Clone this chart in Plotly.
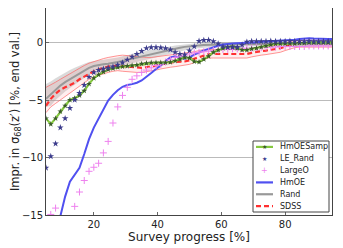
import plotly.graph_objects as go

progress = [5.0, 6.5, 8.0, 9.5, 11.0, 12.5, 14.0, 15.5, 17.0, 18.5, 20.0, 21.5, 23.0, 24.5, 26.0,
            27.5, 29.0, 30.5, 32.0, 33.5, 35.0, 36.5, 38.0, 39.5, 41.0, 42.5, 44.0, 45.5, 47.0, 48.5,
            50.0, 51.5, 53.0, 54.5, 56.0, 57.5, 59.0, 60.5, 62.0, 63.5, 65.0, 66.5, 68.0, 69.5, 71.0,
            72.5, 74.0, 75.5, 77.0, 78.5, 80.0, 81.5, 83.0, 84.5, 86.0, 87.5, 89.0, 90.5, 92.0, 93.5, 95.0]

hmoesamp = [-6.6, -7.1, -6.6, -6.0, -5.5, -5.0, -4.85, -4.6, -4.2, -3.6, -3.1, -2.8, -2.55, -2.35, -2.25,
            -2.15, -2.1, -2.05, -2.0, -1.95, -1.85, -1.8, -1.75, -1.75, -1.75, -1.75, -1.72, -1.6, -1.45, -1.3,
            -1.35, -1.65, -1.7, -1.45, -1.2, -0.85, -0.65, -0.5, -0.4, -0.35, -0.5, -0.65, -0.65, -0.55, -0.5,
            -0.4, -0.3, -0.2, -0.12, -0.1, -0.1, -0.08, -0.1, -0.05, -0.05, 0.0, 0.0, 0.0, 0.0, 0.0, 0.0]

le_rand = [-10.9, -9.9, -8.8, -7.4, -6.6, -5.7, -5.0, -4.4, -3.7, -3.0, -2.6, -2.4, -2.3, -2.2, -2.1,
           -1.95, -1.75, -1.5, -1.25, -1.0, -0.75, -0.5, -0.43, -0.42, -0.45, -0.5, -0.62, -0.85, -1.0, -1.05,
           -0.7, -0.35, 0.12, 0.2, 0.22, 0.1, -0.1, -0.35, -0.43, -0.43, -0.4, -0.2, 0.05, 0.1, 0.1,
           0.1, 0.1, 0.12, 0.1, 0.1, 0.1, 0.12, 0.1, 0.1, 0.1, 0.12, 0.1, 0.1, 0.1, 0.1, 0.1]

large_o = [-16.0, -14.95, -14.4, -15.5, -15.8, -15.3, -14.25, -13.0, -12.0, -11.2, -10.85, -10.5, -9.6, -8.6, -7.0,
           -5.6, -4.6, -3.9, -3.2, -2.9, -2.6, -2.4, -2.2, -2.0, -1.9, -1.7, -1.5, -1.3, -1.2, -1.1,
           -1.0, -0.9, -0.85, -0.8, -0.75, -0.7, -0.65, -0.6, -0.6, -0.55, -0.55, -0.5, -0.5, -0.5, -0.45,
           -0.45, -0.4, -0.4, -0.4, -0.35, -0.35, -0.35, -0.35, -0.35, -0.35, -0.3, -0.3, -0.3, -0.3, -0.3, -0.3]

hmoe = [-20.0, -18.5, -17.0, -15.1, -13.4, -12.1, -11.5, -10.9, -9.7, -8.4, -7.4, -6.6, -5.8, -5.05, -4.55,
        -4.15, -3.85, -3.7, -3.62, -3.5, -3.3, -3.0, -2.65, -2.3, -2.0, -1.6, -1.3, -1.2, -1.35, -1.42,
        -1.3, -1.05, -0.85, -0.7, -0.55, -0.4, -0.28, -0.18, -0.1, -0.08, -0.06, -0.05, -0.03, 0.0, 0.03,
        0.06, 0.08, 0.1, 0.12, 0.14, 0.16, 0.2, 0.25, 0.3, 0.35, 0.38, 0.35, 0.32, 0.3, 0.3, 0.3]

rand = [-4.9, -4.5, -4.1, -3.75, -3.45, -3.2, -2.95, -2.7, -2.45, -2.2, -2.05, -1.95, -1.9, -1.85, -1.8,
        -1.7, -1.6, -1.5, -1.4, -1.3, -1.2, -1.1, -1.0, -0.9, -0.82, -0.75, -0.65, -0.55, -0.45, -0.38,
        -0.32, -0.28, -0.25, -0.22, -0.2, -0.18, -0.15, -0.15, -0.15, -0.15, -0.15, -0.15, -0.12, -0.1, -0.1,
        -0.1, -0.1, -0.1, -0.1, -0.1, -0.1, -0.1, -0.1, -0.1, -0.1, -0.1, -0.1, -0.1, -0.1, -0.1, -0.1]
rand_hi = [-3.6, -3.4, -3.1, -2.85, -2.6, -2.4, -2.2, -2.0, -1.85, -1.7, -1.6, -1.55, -1.5, -1.45, -1.4,
           -1.3, -1.2, -1.1, -1.0, -0.95, -0.85, -0.75, -0.65, -0.55, -0.5, -0.45, -0.35, -0.25, -0.2, -0.15,
           -0.1, -0.08, -0.05, -0.02, 0.0, 0.0, 0.0, 0.0, 0.0, 0.0, 0.0, 0.0, 0.05, 0.05, 0.05,
           0.05, 0.05, 0.05, 0.05, 0.05, 0.05, 0.05, 0.05, 0.05, 0.05, 0.05, 0.05, 0.05, 0.05, 0.05, 0.05]
rand_lo = [-5.6, -5.5, -5.0, -4.6, -4.25, -3.95, -3.65, -3.35, -3.05, -2.75, -2.5, -2.35, -2.3, -2.25, -2.2,
           -2.1, -2.0, -1.9, -1.8, -1.7, -1.6, -1.5, -1.4, -1.3, -1.2, -1.1, -0.98, -0.88, -0.75, -0.65,
           -0.58, -0.52, -0.48, -0.45, -0.42, -0.4, -0.38, -0.35, -0.35, -0.35, -0.35, -0.35, -0.35, -0.3, -0.3,
           -0.3, -0.3, -0.3, -0.3, -0.3, -0.3, -0.3, -0.3, -0.3, -0.3, -0.3, -0.3, -0.3, -0.3, -0.3, -0.3]

sdss = [-5.5, -4.9, -4.45, -4.1, -3.9, -3.7, -3.5, -3.2, -2.95, -2.7, -2.5, -2.35, -2.2, -2.1, -2.05,
        -2.0, -2.05, -2.1, -2.15, -2.2, -2.2, -2.15, -2.1, -2.0, -1.9, -1.8, -1.75, -1.7, -1.68, -1.65,
        -1.55, -1.4, -1.25, -1.1, -1.0, -1.0, -1.0, -1.0, -1.0, -1.0, -1.0, -1.0, -1.0, -0.9, -0.8,
        -0.75, -0.7, -0.65, -0.6, -0.5, -0.35, -0.2, -0.1, -0.05, -0.05, -0.05, -0.05, -0.05, -0.08, -0.1, -0.1]
sdss_hi = [-3.9, -3.7, -3.45, -3.2, -2.95, -2.7, -2.45, -2.2, -2.0, -1.8, -1.65, -1.5, -1.4, -1.3, -1.2,
           -1.15, -1.1, -1.15, -1.2, -1.25, -1.3, -1.3, -1.3, -1.25, -1.2, -1.15, -1.1, -1.05, -1.0, -0.95,
           -0.9, -0.8, -0.7, -0.6, -0.6, -0.6, -0.6, -0.6, -0.6, -0.6, -0.6, -0.6, -0.6, -0.5, -0.45,
           -0.4, -0.35, -0.3, -0.25, -0.15, -0.05, 0.1, 0.15, 0.2, 0.2, 0.2, 0.2, 0.2, 0.2, 0.2, 0.2]
sdss_lo = [-6.1, -5.6, -5.3, -5.0, -4.7, -4.4, -4.1, -3.8, -3.5, -3.2, -3.0, -2.85, -2.7, -2.6, -2.5,
           -2.45, -2.5, -2.55, -2.6, -2.6, -2.6, -2.55, -2.5, -2.4, -2.3, -2.2, -2.15, -2.1, -2.05, -2.0,
           -1.9, -1.75, -1.6, -1.45, -1.35, -1.35, -1.35, -1.35, -1.35, -1.35, -1.35, -1.35, -1.35, -1.25, -1.15,
           -1.1, -1.05, -1.0, -0.95, -0.85, -0.7, -0.55, -0.45, -0.4, -0.4, -0.4, -0.4, -0.4, -0.4, -0.4, -0.4]

x_ticks = [20, 40, 60, 80]
y_ticks = [-15, -10, -5, 0]

C_GREEN, C_GREEN_MK = "#86c940", "#3a5a2a"
C_LE = "#3c3c8c"
C_LARGE = "#ee82ee"
C_HMOE = "#5050f0"
C_RAND = "#999999"
C_SDSS = "#ff3030"

fig = go.Figure()

# Rand band
fig.add_trace(go.Scatter(x=progress, y=rand_hi, mode="lines", line=dict(width=0, color="rgba(0,0,0,0)"),
                         showlegend=False, hoverinfo="skip"))
fig.add_trace(go.Scatter(x=progress, y=rand_lo, mode="lines", line=dict(width=0, color="rgba(0,0,0,0)"),
                         fill="tonexty", fillcolor="rgba(150,150,150,0.35)", showlegend=False, hoverinfo="skip"))
# SDSS band
fig.add_trace(go.Scatter(x=progress, y=sdss_hi, mode="lines", line=dict(width=0.8, color="rgba(255,90,90,0.8)"),
                         showlegend=False, hoverinfo="skip"))
fig.add_trace(go.Scatter(x=progress, y=sdss_lo, mode="lines", line=dict(width=0.8, color="rgba(255,90,90,0.8)"),
                         fill="tonexty", fillcolor="rgba(255,120,120,0.12)", showlegend=False, hoverinfo="skip"))

fig.add_trace(go.Scatter(x=progress, y=sdss, mode="lines", name="SDSS", showlegend=False,
                         line=dict(color=C_SDSS, width=2.2, dash="5px,3px")))
fig.add_trace(go.Scatter(x=progress, y=rand, mode="lines", name="Rand", showlegend=False,
                         line=dict(color=C_RAND, width=2)))
fig.add_trace(go.Scatter(x=progress, y=hmoe, mode="lines", name="HmOE", showlegend=False,
                         line=dict(color=C_HMOE, width=2)))
fig.add_trace(go.Scatter(x=progress, y=large_o, mode="markers", name="LargeO", showlegend=False,
                         marker=dict(symbol="cross-thin", size=5, color=C_LARGE,
                                     line=dict(color=C_LARGE, width=1))))
fig.add_trace(go.Scatter(x=progress, y=hmoesamp, mode="lines+markers", name="HmOESamp", showlegend=False,
                         line=dict(color=C_GREEN, width=2.2),
                         marker=dict(symbol="star", size=4.5, color=C_GREEN_MK)))
fig.add_trace(go.Scatter(x=progress, y=le_rand, mode="markers", name="LE_Rand", showlegend=False,
                         marker=dict(symbol="star", size=5, color=C_LE)))

# ---- geometry (the page body adds an 8 px margin, so the figure is sized to fit inside it) ----
PAGE_OFF = 8
W, H = 343 - PAGE_OFF, 248 - PAGE_OFF
ML, MR, MT, MB = 38, 11, 0, 33
PW, PH = W - ML - MR, H - MT - MB
def px_x(p): return (p - PAGE_OFF - ML) / PW      # window pixel -> paper
def px_y(p): return (H - MB - (p - PAGE_OFF)) / PH

# ---- compact legend (plotly's built-in legend rows cannot be made this tight) ----
legend_names = ["HmOESamp", "LE_Rand", "LargeO", "HmOE", "Rand", "SDSS"]
box_l, box_r, box_t, box_b = 253, 329, 141, 212
row_h = (box_b - box_t) / len(legend_names)
line_x0, line_x1, text_x = 256, 273, 278

shapes = [dict(type="rect", xref="paper", yref="paper", x0=px_x(box_l), x1=px_x(box_r),
               y0=px_y(box_b), y1=px_y(box_t), line=dict(color="#444", width=1), fillcolor="white",
               layer="above")]
annotations = []
for i, name in enumerate(legend_names):
    cy = px_y(box_t + row_h * (i + 0.5))
    annotations.append(dict(text=name, x=px_x(text_x), y=cy, xref="paper", yref="paper",
                            xanchor="left", yanchor="middle", showarrow=False,
                            font=dict(size=8, color="#222")))
    if name in ("HmOESamp", "HmOE", "Rand"):
        col = {"HmOESamp": C_GREEN, "HmOE": C_HMOE, "Rand": C_RAND}[name]
        shapes.append(dict(type="line", xref="paper", yref="paper", x0=px_x(line_x0), x1=px_x(line_x1),
                           y0=cy, y1=cy, line=dict(color=col, width=2.2), layer="above"))
    if name == "SDSS":
        shapes.append(dict(type="line", xref="paper", yref="paper", x0=px_x(line_x0), x1=px_x(line_x1),
                           y0=cy, y1=cy, line=dict(color=C_SDSS, width=2.2, dash="5px,3px"), layer="above"))
    mid = px_x((line_x0 + line_x1) / 2)
    if name in ("HmOESamp", "LE_Rand"):
        annotations.append(dict(text="★", x=mid, y=cy, xref="paper", yref="paper",
                                xanchor="center", yanchor="middle", showarrow=False,
                                font=dict(size=6, color=C_GREEN_MK if name == "HmOESamp" else C_LE)))
    if name == "LargeO":
        annotations.append(dict(text="+", x=mid, y=cy, xref="paper", yref="paper",
                                xanchor="center", yanchor="middle", showarrow=False,
                                font=dict(size=8, color=C_LARGE)))

fig.update_layout(
    width=W, height=H,
    margin=dict(l=ML, r=MR, t=MT, b=MB),
    paper_bgcolor="white", plot_bgcolor="white",
    font=dict(family="DejaVu Sans", color="#222", size=10),
    showlegend=False,
    shapes=shapes, annotations=annotations,
    xaxis=dict(range=[5, 94.7], tickvals=x_ticks, ticks="inside", ticklen=3, tickcolor="#666",
               showgrid=False, zeroline=False, showline=True, linecolor="#444", linewidth=1, mirror=True,
               automargin=False,
               title=dict(text="Survey progress [%]", font=dict(size=12), standoff=2),
               tickfont=dict(size=10)),
    yaxis=dict(range=[-15, 3], tickvals=y_ticks, ticks="inside", ticklen=3, tickcolor="#666",
               showgrid=True, gridcolor="#bbbbbb", gridwidth=1, zeroline=False,
               showline=True, linecolor="#444", linewidth=1, mirror=True,
               automargin=False, tickformat="d",
               title=dict(text="Impr. in σ<sub>68</sub>(z′) [%, end val.]", font=dict(size=11.5), standoff=7),
               tickfont=dict(size=10)),
)

fig.write_html("out.html")
